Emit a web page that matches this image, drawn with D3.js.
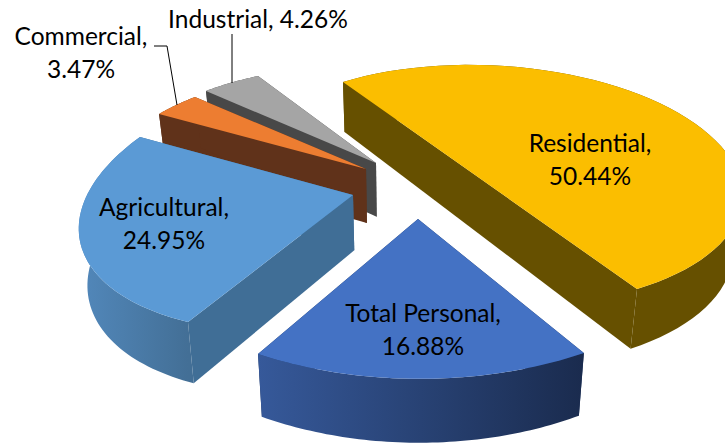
<!DOCTYPE html>
<html lang="en">
<head>
  <meta charset="utf-8">
  <title>Exploded 3D pie</title>
  <style>
    body { margin:0; background:#fff; }
    svg  { display:block; }
    text { font-family:Lato, sans-serif; font-size:24.5px; fill:#000; }
  </style>
</head>
<body>
<script src="https://d3js.org/d3.v7.min.js"></script>
<script>

// chart data, clockwise from the first slice
const categories = ["Residential", "Total Personal", "Agricultural", "Commercial", "Industrial"];
const shares = [50.44, 16.88, 24.95, 3.47, 4.26];

// slice colours: top face, flat side face, rim gradient (left, right)
const topColors = ["#fbbe00", "#4472c4", "#5b9ad5", "#ed7d31", "#a5a5a5"];
const sideColors = ["#665000", "#1f3560", "#406e96", "#60321a", "#484848"];
const rimColors = [["#665000", "#665000"], ["#36599a", "#1a2b4e"], ["#5288bb", "#436f96"], ["#60321a", "#60321a"], ["#484848", "#484848"]];

// how each wedge sits in the tilted view: apex, vector to the rim at the slice's
// end angle, the vector conjugate to it, how much the arc swells under perspective.
// flatten squeezes the just-over-half Residential slice so its straight edge stays straight
const wedgeViews = [
  { apex:[490,185.5], end:[147,103.5],  conj:[205,-62],      swell:0,     flatten:180 / 181.58 },
  { apex:[418,219],   end:[-160,135],   conj:[279.6,78],     swell:0.025, flatten:1 },
  { apex:[353,195],   end:[-165,127],   conj:[-212.5,-58.4], swell:0.02,  flatten:1 },
  { apex:[366,169],   end:[-171,-72],   conj:[-185,70.7],    swell:0,     flatten:1 },
  { apex:[376,163],   end:[-118,-87],   conj:[-212.5,45],    swell:0,     flatten:1 }
];

// label lines: x centre, first baseline; slices with a leader line have their own path
const labelSpots = [[590,152], [423,322], [164,216], [81,45], [258,28]];
const leaders = [null, null, null, [[154,46],[167,46],[177,105]], [[232,34],[232,83]]];
const drawOrder = [4, 3, 0, 2, 1];

const width = 725, height = 444;
const svg = d3.select("body").append("svg").attr("width", width).attr("height", height);
const defs = svg.append("defs");

const pie = d3.pie().sort(null).startAngle(-32 * Math.PI / 180).endAngle(328 * Math.PI / 180);
const slices = pie(shares);
const line = d3.line();

// a point on the top face at angle a of slice i
function rimPoint(i, a) {
  const s = slices[i], w = wedgeViews[i];
  const t = (s.endAngle - a) * w.flatten, span = (s.endAngle - s.startAngle) * w.flatten;
  const k = 1 + w.swell * Math.sin(Math.PI * t / span);
  return [
    w.apex[0] + k * (w.end[0] * Math.cos(t) + w.conj[0] * Math.sin(t)),
    w.apex[1] + k * (w.end[1] * Math.cos(t) + w.conj[1] * Math.sin(t))
  ];
}

// the pie's thickness grows toward the viewer and leans to the middle
function drop(p) {
  return [p[0] - (p[0] - 400) * 0.027, p[1] + 50 + (p[1] - 82) * 0.047];
}

const group = svg.append("g");

drawOrder.forEach(i => {
  const s = slices[i], w = wedgeViews[i];
  const angles = d3.range(0, 61).map(k => s.startAngle + (s.endAngle - s.startAngle) * k / 60);
  const rim = angles.map(a => rimPoint(i, a));
  const first = rim[0], last = rim[rim.length - 1];

  const grad = defs.append("linearGradient")
    .attr("id", "rim" + i)
    .attr("gradientUnits", "userSpaceOnUse")
    .attr("x1", d3.min(rim, d => d[0])).attr("y1", 0)
    .attr("x2", d3.max(rim, d => d[0])).attr("y2", 0);
  grad.append("stop").attr("offset", 0).attr("stop-color", rimColors[i][0]);
  grad.append("stop").attr("offset", 1).attr("stop-color", rimColors[i][1]);

  const g = group.append("g");

  // side faces along the straight edges; a half pie has one flat face, so no seam at the apex
  const faces = s.endAngle - s.startAngle > Math.PI
    ? [[first, last, drop(last), drop(first)]]
    : [first, last].map(p => [w.apex, p, drop(p), drop(w.apex)]);
  faces.forEach(face => {
    g.append("path")
      .attr("d", line(face) + "Z")
      .attr("fill", sideColors[i]);
  });

  // outer rim
  g.append("path")
    .attr("d", line(rim.concat(rim.map(drop).reverse())) + "Z")
    .attr("fill", `url(#rim${i})`);

  // top face
  g.append("path")
    .attr("d", line([w.apex].concat(rim)) + "Z")
    .attr("fill", topColors[i]);
});

// leader lines
svg.append("g")
  .selectAll("path")
  .data(leaders.filter(d => d))
  .join("path")
    .attr("d", d => line(d))
    .attr("fill", "none")
    .attr("stroke", "#000")
    .attr("stroke-width", 1);

// labels: name and share on two lines, except Industrial which fits on one
const labels = svg.append("g")
  .selectAll("text")
  .data(categories)
  .join("text")
    .attr("text-anchor", "middle")
    .attr("x", (d, i) => labelSpots[i][0])
    .attr("y", (d, i) => labelSpots[i][1]);

labels.each(function(d, i) {
  const t = d3.select(this), pct = shares[i].toFixed(2) + "%";
  if (d === "Industrial") {
    t.text(`${d}, ${pct}`);
  } else {
    t.append("tspan").attr("x", labelSpots[i][0]).text(d + ",");
    t.append("tspan").attr("x", labelSpots[i][0]).attr("dy", 33).text(pct);
  }
});

</script>
</body>
</html>
